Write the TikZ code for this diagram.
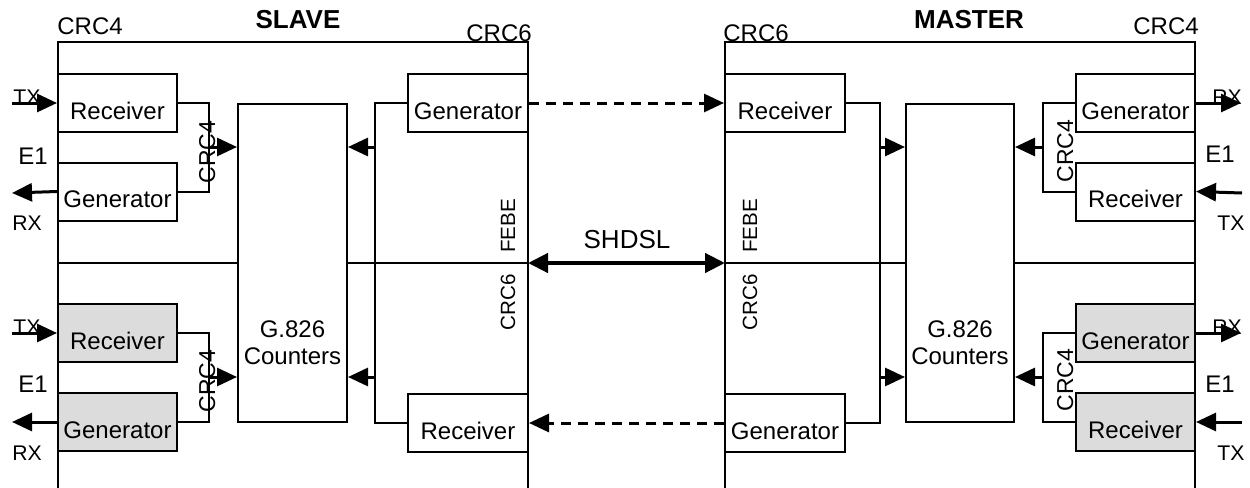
\documentclass[tikz,border=0pt]{standalone}
\usepackage{fontspec}
\setmainfont{Liberation Sans}
\usetikzlibrary{arrows.meta}
\definecolor{boxgray}{RGB}{220,220,220}
\begin{document}
\begin{tikzpicture}[x=0.5pt,y=-0.5pt,
  thin/.style={line width=1pt},
  box/.style={draw,thin,minimum width=59.5pt,minimum height=29pt,inner sep=0pt,
    text height=16pt,text depth=0pt,font=\fontsize{12}{13.5}\selectfont},
  gbox/.style={box,fill=boxgray},
  cbox/.style={draw,thin,minimum width=54.5pt,minimum height=159pt,inner sep=0pt},
  lbl/.style={inner sep=0pt,font=\fontsize{12}{13.5}\selectfont},
  small/.style={inner sep=0pt,font=\fontsize{10.6}{12}\selectfont},
  rot/.style={inner sep=0pt,rotate=90,anchor=base,font=\fontsize{11.5}{13}\selectfont},
  rotsmall/.style={inner sep=0pt,rotate=90,anchor=base,font=\fontsize{10.3}{12}\selectfont},
  big/.style={inner sep=0pt,font=\fontsize{13}{15}\selectfont},
  bigb/.style={inner sep=0pt,font=\bfseries\fontsize{13}{15}\selectfont},
  arr/.style={line width=1.5pt,-{Triangle[length=10pt,width=9pt]}},
  dsh/.style={arr,dash pattern=on 5pt off 3.5pt},
  shd/.style={line width=2.2pt,{Triangle[length=10pt,width=9.5pt]}-{Triangle[length=10pt,width=9.5pt]}}]
\useasboundingbox (0,0) rectangle (1250,488);

% frames
\coordinate (sBL) at (58,488);
\coordinate (sTL) at (58,42);
\coordinate (sTR) at (528,42);
\coordinate (sBR) at (528,488);
\coordinate (mBL) at (725,488);
\coordinate (mTL) at (725,42);
\coordinate (mTR) at (1195,42);
\coordinate (mBR) at (1195,488);
\draw[thin] (sBL) -- (sTL) -- (sTR) -- (sBR);
\draw[thin] (mBL) -- (mTL) -- (mTR) -- (mBR);

% counters
\node[cbox] (cntS) at (292.5,263) {};
\node[cbox,minimum width=54pt] (cntM) at (960,263) {};
\node[lbl,align=center] (cntStxt) at (292.5,343) {G.826\\Counters};
\node[lbl,align=center] (cntMtxt) at (960,343) {G.826\\Counters};

% slave boxes
\node[box] (rcvA) at (117.5,103) {Receiver};
\node[box] (genA) at (117.5,191.5) {Generator};
\node[gbox] (rcvB) at (117.5,333) {Receiver};
\node[gbox] (genB) at (117.5,422) {Generator};
\node[box,minimum width=60pt] (genC) at (468,103) {Generator};
\node[box,minimum width=60pt] (rcvC) at (468,423) {Receiver};

% master boxes
\node[box,minimum width=60pt] (rcvD) at (785,103) {Receiver};
\node[box,minimum width=60pt] (genD) at (785,423) {Generator};
\node[box] (genE) at (1135.5,103) {Generator};
\node[box] (rcvE) at (1135.5,191.5) {Receiver};
\node[gbox] (genF) at (1135.5,333) {Generator};
\node[gbox] (rcvF) at (1135.5,422) {Receiver};

% middle horizontal line
\coordinate (sMidL) at (58,263);
\coordinate (sMidR) at (528,263);
\coordinate (mMidL) at (725,263);
\coordinate (mMidR) at (1195,263);
\draw[thin] (sMidL) -- (cntS.west |- sMidL);
\draw[thin] (cntS.east |- sMidR) -- (sMidR);
\draw[thin] (mMidL) -- (cntM.west |- mMidL);
\draw[thin] (cntM.east |- mMidR) -- (mMidR);

% slave junctions
\coordinate (sj1) at (209,147);
\coordinate (sj2) at (209,377);
\coordinate (sj3) at (375,147);
\coordinate (sj4) at (375,377);
\draw[thin] (rcvA.east) -| (sj1) |- (genA.east);
\draw[thin] (rcvB.east) -| (sj2) |- (genB.east);
\draw[thin] (genC.west) -| (sj3) |- (rcvC.west);
\draw[arr] (sj1) -- (cntS.west |- sj1);
\draw[arr] (sj2) -- (cntS.west |- sj2);
\draw[arr] (sj3) -- (cntS.east |- sj3);
\draw[arr] (sj4) -- (cntS.east |- sj4);

% master junctions
\coordinate (mj1) at (880,147);
\coordinate (mj2) at (880,377);
\coordinate (mj3) at (1043,147);
\coordinate (mj4) at (1043,377);
\draw[thin] (rcvD.east) -| (mj1) |- (genD.east);
\draw[thin] (genE.west) -| (mj3) |- (rcvE.west);
\draw[thin] (genF.west) -| (mj4) |- (rcvF.west);
\draw[arr] (mj1) -- (cntM.west |- mj1);
\draw[arr] (mj2) -- (cntM.west |- mj2);
\draw[arr] (mj3) -- (cntM.east |- mj3);
\draw[arr] (mj4) -- (cntM.east |- mj4);

% SHDSL link
\draw[shd] (sMidR) -- (mMidL);
\node[big,anchor=base] (shdsl) at (627,248) {SHDSL};
\draw[dsh] (genC.east) -- (rcvD.west);
\draw[dsh] (genD.west) -- (rcvC.east);

% E1 side, slave
\coordinate (stx1) at (12,103);
\coordinate (srx1) at (12,193);
\coordinate (stx2) at (12,333);
\coordinate (srx2) at (12,422);
\draw[arr] (stx1) -- (rcvA.west);
\draw[arr] (genA.west) -- (srx1);
\draw[arr] (stx2) -- (rcvB.west);
\draw[arr] (genB.west) -- (srx2);
\node[small,anchor=base west] (sTXa) at (13,104) {TX};
\node[lbl,anchor=base west] (sE1a) at (18,164) {E1};
\node[small,anchor=base west] (sRXa) at (12,230) {RX};
\node[small,anchor=base west] (sTXb) at (13,334) {TX};
\node[lbl,anchor=base west] (sE1b) at (18,392) {E1};
\node[small,anchor=base west] (sRXb) at (12,460) {RX};

% E1 side, master
\coordinate (mrx1) at (1241,103);
\coordinate (mtx1) at (1242,193);
\coordinate (mrx2) at (1241,333);
\coordinate (mtx2) at (1242,422);
\draw[arr] (genE.east) -- (mrx1);
\draw[arr] (mtx1) -- (rcvE.east);
\draw[arr] (genF.east) -- (mrx2);
\draw[arr] (mtx2) -- (rcvF.east);
\node[small,anchor=base west] (mRXa) at (1212,104) {RX};
\node[lbl,anchor=base west] (mE1a) at (1205,162) {E1};
\node[small,anchor=base west] (mTXa) at (1217,230) {TX};
\node[small,anchor=base west] (mRXb) at (1212,334) {RX};
\node[lbl,anchor=base west] (mE1b) at (1205,392) {E1};
\node[small,anchor=base west] (mTXb) at (1217,460) {TX};

% rotated labels
\node[rot] (sCRC4a) at (215,152) {CRC4};
\node[rot] (sCRC4b) at (215,381) {CRC4};
\node[rot] (mCRC4a) at (1073,151) {CRC4};
\node[rot] (mCRC4b) at (1073,380) {CRC4};
\node[rotsmall] (sFEBE) at (515,226) {FEBE};
\node[rotsmall] (sCRC6r) at (515,302) {CRC6};
\node[rotsmall] (mFEBE) at (757,226) {FEBE};
\node[rotsmall] (mCRC6r) at (757,302) {CRC6};

% top labels
\node[lbl,anchor=base west] (sCRC4t) at (57,34) {CRC4};
\node[bigb,anchor=base] (slave) at (298,28) {SLAVE};
\node[lbl,anchor=base west] (sCRC6t) at (466,41) {CRC6};
\node[lbl,anchor=base west] (mCRC6t) at (723,41) {CRC6};
\node[bigb,anchor=base] (master) at (969,28) {MASTER};
\node[lbl,anchor=base west] (mCRC4t) at (1133,34) {CRC4};
\end{tikzpicture}
\end{document}
